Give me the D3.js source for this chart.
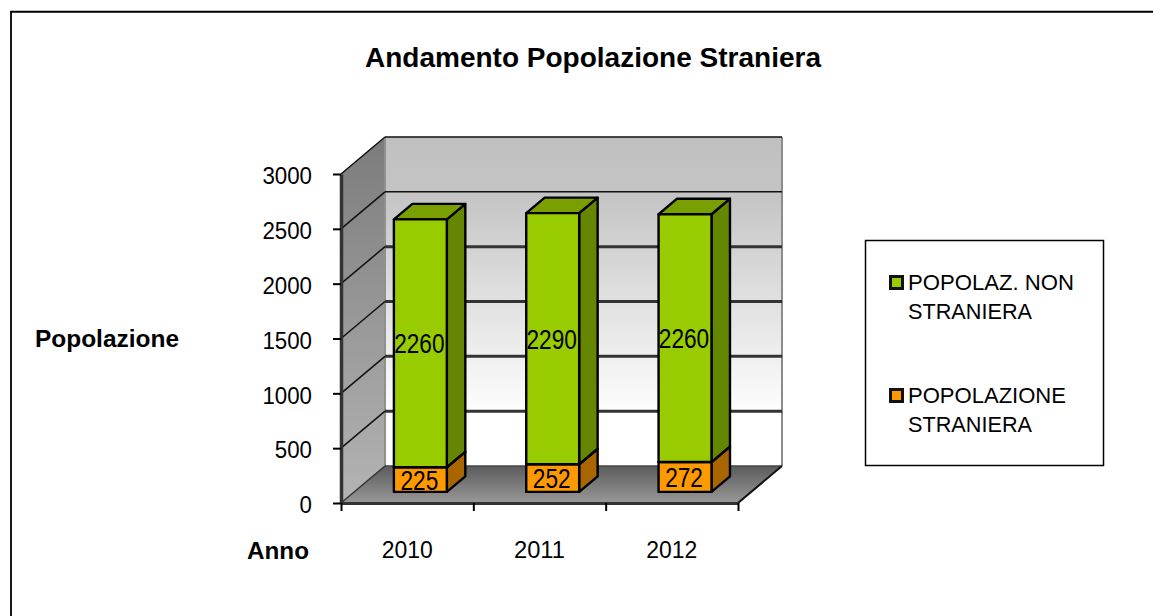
<!DOCTYPE html>
<html>
<head>
<meta charset="utf-8">
<script src="https://cdn.jsdelivr.net/npm/d3@7"></script>
<style>
  html, body { margin: 0; padding: 0; background: #fff; overflow: hidden; }
  text { font-family: "Liberation Sans", Arial, sans-serif; fill: #000; }
</style>
</head>
<body>
<div id="chart-container"></div>
<script>
// values
const years = ["2010", "2011", "2012"];
const nonStraniera = [2260, 2290, 2260];
const straniera = [225, 252, 272];
const yTicks = [0, 500, 1000, 1500, 2000, 2500, 3000];
const seriesNames = ["POPOLAZ. NON STRANIERA", "POPOLAZIONE STRANIERA"];
const legendLines = [["POPOLAZ. NON", "STRANIERA"], ["POPOLAZIONE", "STRANIERA"]];

const width = 1153;
const height = 616;

const svg = d3.select("#chart-container")
  .append("svg")
  .attr("width", width)
  .attr("height", height);

const defs = svg.append("defs");

function addGradient(id, stops) {
  const g = defs.append("linearGradient")
    .attr("id", id)
    .attr("x1", 0).attr("y1", 0).attr("x2", 0).attr("y2", 1);
  stops.forEach(s => g.append("stop").attr("offset", s[0]).attr("stop-color", s[1]));
}
addGradient("wallGrad", [[0, "#c0c0c0"], [0.17, "#c4c4c4"], [0.85, "#ffffff"], [1, "#ffffff"]]);
addGradient("sideGrad", [[0, "#7c7c7c"], [1, "#b4b4b4"]]);
addGradient("floorGrad", [[0, "#5c5c5c"], [1, "#989898"]]);

// outer frame of the pasted chart
svg.append("path")
  .attr("d", "M11,616V11.75H1153")
  .attr("fill", "none")
  .attr("stroke", "#000")
  .attr("stroke-width", 1.8);

// scales: x along the front edge, y up the front edge, z goes to the back wall
const x = d3.scaleBand().domain(years).range([341, 738]).paddingInner(0.6).paddingOuter(0.3);
const y = d3.scaleLinear().domain([0, 3000]).range([503, 174]);
const zx = d3.scaleLinear().domain([0, 1]).range([0, 44]);
const zy = d3.scaleLinear().domain([0, 1]).range([0, -37]);

const xLeft = x.range()[0], xRight = x.range()[1];
const pt = (px, val, z) => [px + zx(z), y(val) + zy(z)];
const poly = pts => "M" + pts.map(p => p.join(",")).join("L") + "Z";

const maxV = yTicks[yTicks.length - 1];

// back wall
svg.append("path")
  .attr("d", poly([pt(xLeft, 0, 1), pt(xLeft, maxV, 1), pt(xRight, maxV, 1), pt(xRight, 0, 1)]))
  .attr("fill", "url(#wallGrad)");
// side wall
svg.append("path")
  .attr("d", poly([pt(xLeft, 0, 0), pt(xLeft, maxV, 0), pt(xLeft, maxV, 1), pt(xLeft, 0, 1)]))
  .attr("fill", "url(#sideGrad)");
// floor
svg.append("path")
  .attr("d", poly([pt(xLeft, 0, 0), pt(xLeft, 0, 1), pt(xRight, 0, 1), pt(xRight, 0, 0)]))
  .attr("fill", "url(#floorGrad)");

// wall edges
svg.append("path")
  .attr("d", "M" + pt(xRight, 0, 1) + "L" + pt(xRight, maxV, 1))
  .attr("stroke", "#8c8c8c").attr("stroke-width", 2).attr("fill", "none");
svg.append("path")
  .attr("d", "M" + pt(xLeft, 0, 1) + "L" + pt(xLeft, maxV, 1))
  .attr("stroke", "#909090").attr("stroke-width", 2).attr("fill", "none");

// gridlines: thin on the side wall, heavier on the back wall
const gridTicks = yTicks.filter(d => d > 0);
svg.selectAll(".grid-side")
  .data(gridTicks)
  .enter()
  .append("path")
  .attr("class", "grid-side")
  .attr("d", d => "M" + pt(xLeft, d, 0) + "L" + pt(xLeft, d, 1))
  .attr("fill", "none")
  .attr("stroke", "#111")
  .attr("stroke-width", 1.5);
svg.selectAll(".grid-back")
  .data(gridTicks)
  .enter()
  .append("path")
  .attr("class", "grid-back")
  .attr("d", d => "M" + pt(xLeft, d, 1) + "L" + pt(xRight, d, 1))
  .attr("fill", "none")
  .attr("stroke", d => (d >= 2500 ? "#111" : "#333"))
  .attr("stroke-width", d => (d >= 2500 ? 1.5 : 3));

// floor back and side edges
svg.append("path")
  .attr("d", "M" + pt(xLeft, 0, 1) + "L" + pt(xRight, 0, 1))
  .attr("stroke", "#444").attr("stroke-width", 1.5).attr("fill", "none");
svg.append("path")
  .attr("d", "M" + pt(xRight, 0, 0) + "L" + pt(xRight, 0, 1))
  .attr("stroke", "#111").attr("stroke-width", 2).attr("fill", "none");
svg.append("path")
  .attr("d", "M" + pt(xLeft, 0, 0) + "L" + pt(xLeft, 0, 1))
  .attr("stroke", "#333").attr("stroke-width", 1.5).attr("fill", "none");

const yAxis = d3.axisLeft(y).tickValues(yTicks).tickSize(8).tickSizeOuter(0).tickPadding(21).tickFormat(d3.format("d"));
const gY = svg.append("g").attr("transform", "translate(" + xLeft + ",0)").call(yAxis);
gY.select(".domain").attr("stroke", "#333").attr("stroke-width", 3.5);
gY.selectAll(".tick line").attr("stroke", "#000").attr("stroke-width", 2);
gY.selectAll(".tick text")
  .style("font-size", "24px")
  .attr("y", 2)
  .attr("textLength", d => String(d).length * 12.4)
  .attr("lengthAdjust", "spacingAndGlyphs");

const xTickPos = years.map((d, i) => xLeft + i * (xRight - xLeft) / years.length).concat([xRight]);
const xAxis = d3.axisBottom(d3.scaleIdentity().domain([xLeft, xRight]))
  .tickValues(xTickPos).tickSize(8).tickSizeOuter(0).tickFormat("");
const gX = svg.append("g").attr("transform", "translate(0," + y(0) + ")").call(xAxis);
gX.select(".domain").attr("stroke", "#333").attr("stroke-width", 3);
gX.selectAll(".tick line").attr("stroke", "#000").attr("stroke-width", 2);

svg.selectAll(".year")
  .data(years)
  .enter()
  .append("text")
  .attr("class", "year")
  .attr("x", (d, i) => (xTickPos[i] + xTickPos[i + 1]) / 2)
  .attr("y", 558)
  .attr("text-anchor", "middle")
  .attr("textLength", 51)
  .attr("lengthAdjust", "spacingAndGlyphs")
  .style("font-size", "23px")
  .text(d => d);

// stacked 3D bars
const zFront = 0.3, zBack = 0.72;
const stacks = years.map((d, i) => ({
  year: d,
  parts: [
    { from: 0, to: straniera[i], value: straniera[i], front: "#ff9900", side: "#a86500", top: "#a86500" },
    { from: straniera[i], to: straniera[i] + nonStraniera[i], value: nonStraniera[i], front: "#99cc00", side: "#648600", top: "#7a9f00" }
  ]
}));

const barG = svg.selectAll(".bar")
  .data(stacks)
  .enter()
  .append("g")
  .attr("class", "bar");

barG.each(function(d) {
  const g = d3.select(this);
  const x0 = x(d.year), x1 = x0 + x.bandwidth();
  d.parts.forEach(p => {
    // side face
    g.append("path")
      .attr("d", poly([pt(x1, p.from, zFront), pt(x1, p.from, zBack), pt(x1, p.to, zBack), pt(x1, p.to, zFront)]))
      .attr("fill", p.side).attr("stroke", "#000").attr("stroke-width", 2.4).attr("stroke-linejoin", "round");
    // top face
    g.append("path")
      .attr("d", poly([pt(x0, p.to, zFront), pt(x0, p.to, zBack), pt(x1, p.to, zBack), pt(x1, p.to, zFront)]))
      .attr("fill", p.top).attr("stroke", "#000").attr("stroke-width", 2.4).attr("stroke-linejoin", "round");
    // front face
    g.append("path")
      .attr("d", poly([pt(x0, p.from, zFront), pt(x0, p.to, zFront), pt(x1, p.to, zFront), pt(x1, p.from, zFront)]))
      .attr("fill", p.front).attr("stroke", "#000").attr("stroke-width", 2.4).attr("stroke-linejoin", "round");
    // value label
    const digits = String(p.value).length;
    g.append("text")
      .attr("x", (x0 + x1) / 2 + zx(zFront) - 1)
      .attr("y", y((p.from + p.to) / 2) + zy(zFront) + 10)
      .attr("text-anchor", "middle")
      .attr("textLength", digits * 12.6)
      .attr("lengthAdjust", "spacingAndGlyphs")
      .style("font-size", "27px")
      .text(p.value);
  });
});

// title and axis titles
svg.append("text")
  .attr("x", 593).attr("y", 67)
  .attr("text-anchor", "middle")
  .style("font-size", "27px").style("font-weight", "bold")
  .attr("textLength", 456).attr("lengthAdjust", "spacingAndGlyphs")
  .text("Andamento Popolazione Straniera");
svg.append("text")
  .attr("x", 35).attr("y", 347)
  .style("font-size", "23px").style("font-weight", "bold")
  .attr("textLength", 144).attr("lengthAdjust", "spacingAndGlyphs")
  .text("Popolazione");
svg.append("text")
  .attr("x", 247).attr("y", 559)
  .style("font-size", "23px").style("font-weight", "bold")
  .attr("textLength", 62).attr("lengthAdjust", "spacingAndGlyphs")
  .text("Anno");

// legend
svg.append("rect")
  .attr("x", 865.5).attr("y", 240.5).attr("width", 238).attr("height", 225)
  .attr("fill", "#fff").attr("stroke", "#000").attr("stroke-width", 1.5);

const legendColor = d3.scaleOrdinal().domain(seriesNames).range(["#99cc00", "#ff9900"]);
const legend = svg.selectAll(".legend")
  .data(seriesNames)
  .enter()
  .append("g")
  .attr("class", "legend")
  .attr("transform", (d, i) => "translate(0," + (i * 113) + ")");

legend.append("rect")
  .attr("x", 890.5).attr("y", 276.5).attr("width", 12).attr("height", 12)
  .attr("fill", d => legendColor(d))
  .attr("stroke", "#111").attr("stroke-width", 3);

// widths of the legend lines as measured in the picture
const legendWidths = [[166, 124], [158, 124]];
legend.each(function(d, i) {
  d3.select(this).selectAll("text")
    .data(legendLines[i])
    .enter()
    .append("text")
    .attr("x", 908)
    .attr("y", (t, j) => 290 + j * 29)
    .attr("textLength", (t, j) => legendWidths[i][j])
    .attr("lengthAdjust", "spacingAndGlyphs")
    .style("font-size", "22px")
    .text(t => t);
});
</script>
</body>
</html>
